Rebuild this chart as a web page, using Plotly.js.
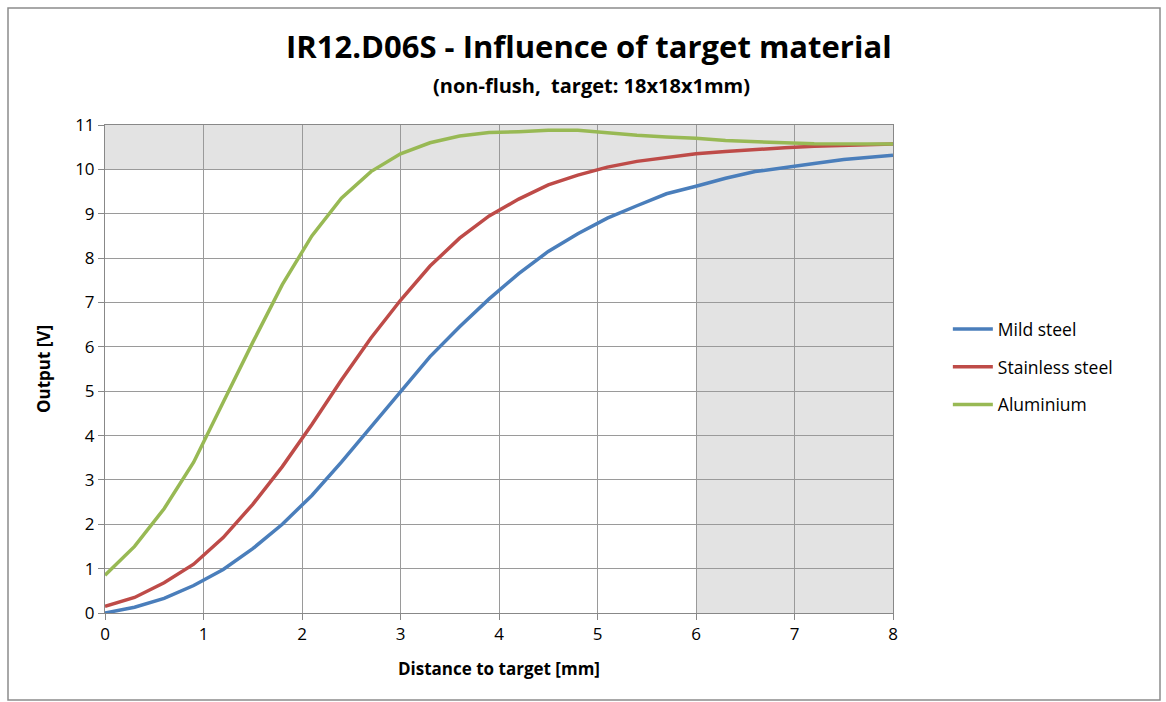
<!DOCTYPE html>
<html>
<head>
<meta charset="utf-8">
<script src="https://cdn.plot.ly/plotly-3.0.1.min.js"></script>
<style>html,body{margin:0;padding:0;background:#fff;}#chart{width:1166px;height:702px;}</style>
</head>
<body>
<div id="chart"></div>
<script>
const distance = [0,0.3,0.6,0.9,1.2,1.5,1.8,2.1,2.4,2.7,3.0,3.3,3.6,3.9,4.2,4.5,4.8,5.1,5.4,5.7,6.0,6.3,6.6,6.9,7.2,7.5,7.8,8.0];
const mildSteel = [0.0,0.13,0.33,0.62,0.98,1.45,2.0,2.65,3.4,4.2,5.0,5.78,6.45,7.08,7.65,8.15,8.55,8.9,9.18,9.45,9.62,9.8,9.95,10.05,10.13,10.22,10.27,10.32];
const stainlessSteel = [0.15,0.35,0.68,1.1,1.7,2.45,3.3,4.25,5.25,6.2,7.05,7.82,8.45,8.95,9.33,9.65,9.87,10.05,10.18,10.27,10.35,10.4,10.45,10.49,10.52,10.54,10.56,10.57];
const aluminium = [0.85,1.5,2.35,3.4,4.75,6.1,7.4,8.5,9.35,9.95,10.35,10.6,10.75,10.83,10.85,10.88,10.88,10.82,10.77,10.73,10.7,10.65,10.62,10.6,10.58,10.57,10.57,10.57];
const seriesNames = ["Mild steel","Stainless steel","Aluminium"];
const seriesColors = ["#4a7ebb","#be4b48","#98b954"];
const xTicks = [0,1,2,3,4,5,6,7,8];
const yTicks = [0,1,2,3,4,5,6,7,8,9,10,11];

const font = "Open Sans, Liberation Sans, sans-serif";
const data = [mildSteel, stainlessSteel, aluminium].map((ys,i)=>({
  x: distance, y: ys, type: "scatter", mode: "lines", name: seriesNames[i],
  legendgroup: "g"+i,
  line: {color: seriesColors[i], width: 3.5}
}));

const layout = {
  width: 1166, height: 702,
  margin: {l:105, r:273, t:125, b:89},
  paper_bgcolor: "#fff", plot_bgcolor: "#fff",
  font: {family: font, color: "#000"},
  title: {text: "<b>IR12.D06S - Influence of target material</b>", font: {size: 31, family: font, color:"#000"},
    x: 0.505, xanchor: "center", y: 0.933, yanchor: "middle"},
  annotations: [{text: "<b>(non-flush,  target: 18x18x1mm)</b>", xref: "paper", yref: "paper",
    x: 0.617, y: 1.0 + (125-86)/488, xanchor: "center", yanchor: "middle", showarrow: false,
    font: {size: 20, family: font, color:"#000"}}],
  xaxis: {range: [0,8], tickvals: xTicks, ticks: "outside", ticklen: 6, tickcolor: "#888",
    showgrid: true, gridcolor: "#9a9a9a", gridwidth: 1, zeroline: false,
    showline: true, linecolor: "#888", mirror: true,
    tickfont: {size: 17, family: font, color:"#000"},
    title: {text: "<b>Distance to target [mm]</b>", font: {size: 17, family: font, color:"#000"}, standoff: 18}},
  yaxis: {range: [0,11], tickvals: yTicks, ticks: "outside", ticklen: 6, tickcolor: "#888",
    showgrid: true, gridcolor: "#9a9a9a", gridwidth: 1, zeroline: false,
    showline: true, linecolor: "#888", mirror: true,
    tickfont: {size: 17, family: font, color:"#000"},
    title: {text: "<b>Output [V]</b>", font: {size: 17, family: font, color:"#000"}, standoff: 20}},
  legend: {x: 1.0696, y: 0.504, xanchor: "left", yanchor: "middle", font: {size: 17.5, family: font, color:"#000"},
    itemwidth: 40, tracegroupgap: 12, bgcolor: "rgba(0,0,0,0)"},
  shapes: [
    {type:"rect", xref:"x", yref:"y", x0:0, x1:8, y0:10, y1:11, fillcolor:"#e3e3e3", line:{width:0}, layer:"below"},
    {type:"rect", xref:"x", yref:"y", x0:6, x1:8, y0:0, y1:10, fillcolor:"#e3e3e3", line:{width:0}, layer:"below"},
    {type:"rect", xref:"paper", yref:"paper", x0:(8-105)/788, x1:(1160-105)/788, y0:(613-700)/488, y1:(613-8)/488,
      line:{color:"#8c8c8c", width:1.5}, fillcolor:"rgba(0,0,0,0)"}
  ]
};
Plotly.newPlot("chart", data, layout, {displayModeBar:false, staticPlot:true});
</script>
</body>
</html>
